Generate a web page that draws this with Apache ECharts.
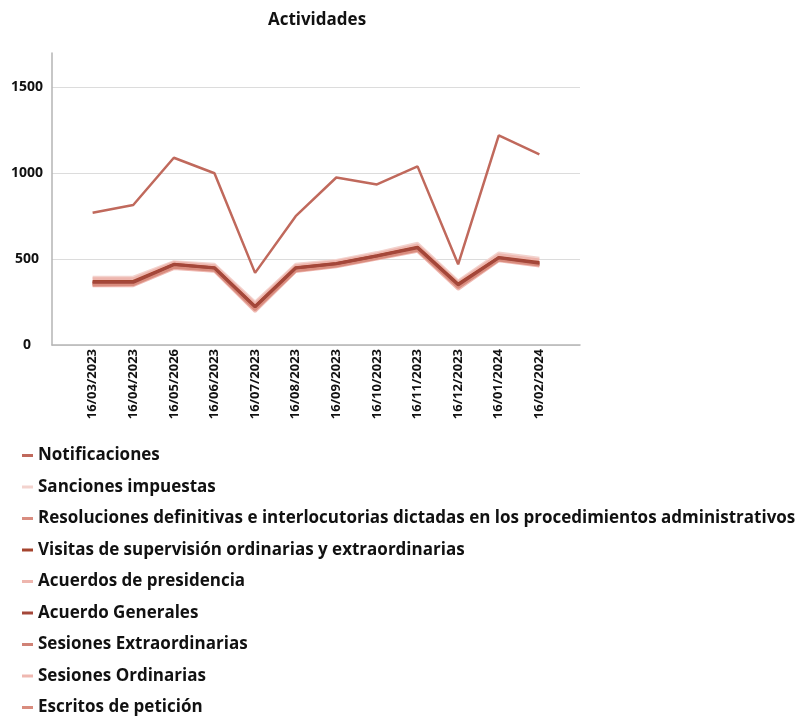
<!DOCTYPE html>
<html>
<head>
<meta charset="UTF-8" />
<title>Actividades</title>
<script src="https://cdn.jsdelivr.net/npm/echarts@6/dist/echarts.min.js"></script>
<style>
  html, body { margin: 0; padding: 0; background: #fff; }
  #chart { width: 800px; height: 717px; }
</style>
</head>
<body>
<div id="chart"></div>
<script>
// fechas del eje x (tal cual aparecen)
const fechas = ['16/03/2023', '16/04/2023', '16/05/2026', '16/06/2023', '16/07/2023', '16/08/2023',
  '16/09/2023', '16/10/2023', '16/11/2023', '16/12/2023', '16/01/2024', '16/02/2024'];

const notificaciones = [770, 815, 1090, 1000, 420, 750, 975, 935, 1040, 470, 1220, 1110];
const sanciones = [395, 395, 485, 470, 250, 470, 492, 538, 592, 372, 535, 505];
const resoluciones = [355, 358, 455, 438, 210, 436, 464, 508, 556, 338, 498, 468];
const visitas = [370, 370, 470, 450, 225, 450, 475, 520, 570, 355, 510, 480];
const acuerdosPresidencia = [385, 385, 480, 462, 240, 462, 486, 530, 582, 365, 525, 495];
const acuerdoGenerales = [365, 365, 468, 448, 222, 448, 473, 518, 566, 350, 508, 476];
const sesionesExtra = [360, 362, 460, 442, 215, 440, 468, 512, 560, 342, 502, 470];
const sesionesOrd = [345, 345, 445, 430, 195, 428, 455, 500, 545, 325, 490, 460];
const escritos = [350, 352, 452, 435, 205, 432, 460, 505, 552, 335, 495, 465];

const yTicks = [0, 500, 1000, 1500];

const FONT = 'Open Sans';

// [nombre, datos, color, grosor, z]
const series = [
  ['Notificaciones', notificaciones, '#c0695c', 2.5, 5],
  ['Sanciones impuestas', sanciones, '#f3d3ce', 3, 2],
  ['Resoluciones definitivas e interlocutorias dictadas en los procedimientos administrativos', resoluciones, '#d98d80', 3, 3],
  ['Visitas de supervisión ordinarias y extraordinarias', visitas, '#a5442e', 3, 4],
  ['Acuerdos de presidencia', acuerdosPresidencia, '#eeb6ae', 3, 2],
  ['Acuerdo Generales', acuerdoGenerales, '#a4473a', 3, 4],
  ['Sesiones Extraordinarias', sesionesExtra, '#d08276', 3, 3],
  ['Sesiones Ordinarias', sesionesOrd, '#efb8b1', 3, 2],
  ['Escritos de petición', escritos, '#d98c7e', 3, 3]
];

const chart = echarts.init(document.getElementById('chart'));

chart.setOption({
  animation: false,
  title: {
    text: 'Actividades',
    left: 312,
    textAlign: 'center',
    top: 7,
    textStyle: { fontFamily: FONT, fontSize: 17, fontWeight: 'bold', color: '#111' }
  },
  legend: {
    orient: 'vertical',
    left: 22,
    top: 446,
    padding: 0,
    height: 271,
    icon: 'rect',
    itemWidth: 11,
    itemHeight: 3,
    itemGap: 12.5,
    textStyle: { fontFamily: FONT, fontSize: 17, fontWeight: 'bold', color: '#111', lineHeight: 19 },
    data: series.map(s => s[0])
  },
  grid: { left: 52, right: 220, top: 53, bottom: 372 },
  xAxis: {
    type: 'value',
    min: -1,
    max: 12,
    interval: 1,
    axisLine: { show: true, onZero: false, lineStyle: { color: '#b5b5b5', width: 1.5 } },
    axisTick: { show: false },
    splitLine: { show: false },
    axisLabel: {
      rotate: 90,
      margin: 4,
      fontFamily: FONT,
      fontSize: 13,
      fontWeight: 'bold',
      color: '#111',
      formatter: v => fechas[v] || ''
    }
  },
  yAxis: {
    type: 'value',
    min: 0,
    max: 1700,
    interval: 500,
    axisLine: { show: true, onZero: false, lineStyle: { color: '#b5b5b5', width: 1.5 } },
    axisTick: { show: false },
    splitLine: { show: true, showMaxLine: false, lineStyle: { color: '#dcdcdc', width: 1 } },
    axisLabel: {
      showMaxLabel: false,
      align: 'center',
      margin: 25,
      fontFamily: FONT,
      fontSize: 14,
      fontWeight: 'bold',
      color: '#111',
      formatter: v => (yTicks.indexOf(v) >= 0 ? String(v) : '')
    }
  },
  series: series.map(s => ({
    name: s[0],
    type: 'line',
    z: s[4],
    showSymbol: false,
    symbol: 'none',
    color: s[2],
    lineStyle: { color: s[2], width: s[3] },
    data: s[1].map((v, i) => [i, v])
  }))
});
</script>
</body>
</html>
